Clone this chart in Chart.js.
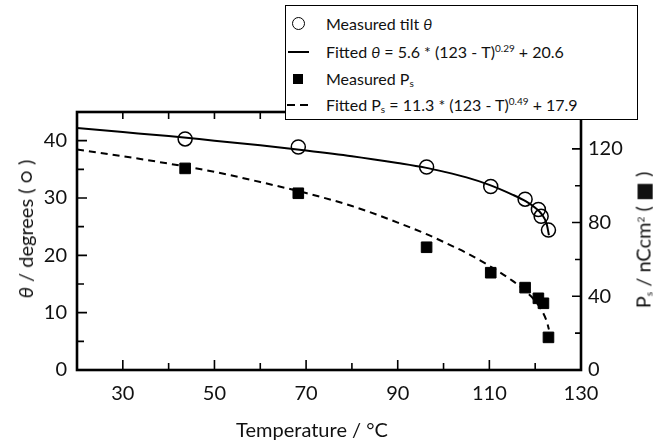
<!DOCTYPE html>
<html lang="en">
<head>
    <meta charset="UTF-8">
    <title>Tilt angle and spontaneous polarisation vs temperature</title>
    <script src="https://cdn.jsdelivr.net/npm/chart.js"></script>
    <style>
        html, body {
            margin: 0;
            padding: 0;
            background: #fff;
        }

        #wrap {
            position: relative;
            width: 653px;
            height: 443px;
            overflow: hidden;
            font-family: Lato, "DejaVu Sans", sans-serif;
            color: #111;
        }

        .axis-title {
            position: absolute;
            font-size: 20px;
            white-space: nowrap;
            transform: translate(-50%, -50%) rotate(-90deg);
        }

        .legend {
            position: absolute;
            left: 285px;
            top: 5px;
            width: 351px;
            height: 113px;
            border: 1.5px solid #000;
            background: #fff;
            font-size: 16px;
        }

        .legend .row {
            position: absolute;
            left: 0;
            height: 20px;
            line-height: 20px;
            white-space: nowrap;
        }

        .legend .sym {
            position: absolute;
            left: 0;
            top: 0;
            width: 26px;
            height: 20px;
        }

        .legend .txt {
            position: absolute;
            left: 40px;
            top: 0;
        }

        sup { font-size: 10px; vertical-align: 6px; line-height: 0; }
        sub { font-size: 10px; vertical-align: -2px; line-height: 0; }
    </style>
</head>
<body>
<div id="wrap">
    <canvas id="tiltChart" width="653" height="443"></canvas>

    <div class="axis-title" style="left:25px; top:229px;"><i>θ</i> / degrees ( ○ )</div>
    <div class="axis-title" style="left:643px; top:240px;">P<sub>s</sub> / nCcm<sup>2</sup> ( ■ )</div>
    <div class="axis-title" style="left:312px; top:429px; transform:translate(-50%, -50%);">Temperature / °C</div>

    <div class="legend">
        <div class="row" style="top:8px;">
            <div class="sym"><div style="position:absolute; left:6px; top:3px; width:11px; height:11px; border:1.5px solid #000; border-radius:50%;"></div></div>
            <div class="txt">Measured tilt <i>θ</i></div>
        </div>
        <div class="row" style="top:36px;">
            <div class="sym"><div style="position:absolute; left:2px; top:9px; width:21px; height:2px; background:#000;"></div></div>
            <div class="txt">Fitted <i>θ</i> = 5.6 * (123 - T)<sup>0.29</sup> + 20.6</div>
        </div>
        <div class="row" style="top:63px;">
            <div class="sym"><div style="position:absolute; left:7px; top:5px; width:10px; height:10px; background:#000;"></div></div>
            <div class="txt">Measured P<sub>s</sub></div>
        </div>
        <div class="row" style="top:89px;">
            <div class="sym">
                <div style="position:absolute; left:1px; top:9px; width:8px; height:2px; background:#000;"></div>
                <div style="position:absolute; left:14px; top:9px; width:8px; height:2px; background:#000;"></div>
            </div>
            <div class="txt">Fitted P<sub>s</sub> = 11.3 * (123 - T)<sup>0.49</sup> + 17.9</div>
        </div>
    </div>
</div>

<script>
    // measured points
    const tempTheta = [43.6, 68.3, 96.3, 110.3, 117.8, 120.7, 121.3, 122.9];
    const tiltTheta = [40.3, 38.9, 35.4, 32.0, 29.8, 28.0, 26.8, 24.4];
    const tempPs = [43.6, 68.3, 96.3, 110.3, 117.8, 120.7, 121.8, 122.9];
    const polPs = [109.4, 95.9, 66.6, 52.8, 44.7, 38.9, 36.2, 17.7];

    // fitted curves, sampled from the drawn lines
    const fitTemp = [20, 30, 40, 50, 60, 70, 80, 90, 96, 100, 105, 110, 115, 118, 120, 121.5, 122.5, 123];
    const fitTheta = [42.2, 41.5, 40.8, 40.0, 39.2, 38.3, 37.3, 36.1, 35.3, 34.6, 33.6, 32.3, 30.6, 29.4, 28.3, 27.1, 25.5, 23.5];
    const fitPs = [119.7, 116, 112, 107.5, 102, 96, 89, 80, 74, 69.5, 63.5, 56.5, 48.5, 42.5, 37.5, 32, 26.5, 22];

    // tick labels
    const xTicks = [30, 50, 70, 90, 110, 130];
    const yLeftTicks = [0, 10, 20, 30, 40];
    const yRightTicks = [0, 40, 80, 120];

    const toXY = (xs, ys) => xs.map((x, i) => ({ x: x, y: ys[i] }));
    const tickFont = { family: 'Lato', size: 20 };

    // frame and inward tick marks
    const frameTicks = {
        id: 'frameTicks',
        afterDraw(chart) {
            const ctx = chart.ctx;
            const a = chart.chartArea;
            const sx = chart.scales.x, sy = chart.scales.y, sy2 = chart.scales.y2;
            ctx.save();
            ctx.strokeStyle = '#000';
            ctx.lineWidth = 1.6;
            ctx.beginPath();
            for (let t = 30; t <= 130; t += 10) {
                const px = sx.getPixelForValue(t);
                const len = xTicks.includes(t) ? 10 : 7;
                ctx.moveTo(px, a.bottom);
                ctx.lineTo(px, a.bottom - len);
                if (t < 130) {
                    ctx.moveTo(px, a.top);
                    ctx.lineTo(px, a.top + 7);
                }
            }
            for (let v = 5; v < 45; v += 5) {
                const py = sy.getPixelForValue(v);
                const len = yLeftTicks.includes(v) ? 10 : 7;
                ctx.moveTo(a.left, py);
                ctx.lineTo(a.left + len, py);
            }
            for (let v = 20; v < 140; v += 20) {
                const py = sy2.getPixelForValue(v);
                const len = yRightTicks.includes(v) ? 9 : 6;
                ctx.moveTo(a.right, py);
                ctx.lineTo(a.right - len, py);
            }
            ctx.stroke();
            ctx.lineWidth = 2.6;
            ctx.strokeRect(a.left, a.top, a.right - a.left, a.bottom - a.top);
            ctx.restore();
        }
    };

    new Chart(document.getElementById('tiltChart'), {
        type: 'scatter',
        data: {
            datasets: [
                {
                    label: 'Measured tilt θ',
                    data: toXY(tempTheta, tiltTheta),
                    yAxisID: 'y',
                    pointStyle: 'circle',
                    pointRadius: 7,
                    pointBorderWidth: 1.5,
                    borderColor: '#000',
                    backgroundColor: 'rgba(0,0,0,0)'
                },
                {
                    label: 'Fitted θ',
                    type: 'line',
                    data: toXY(fitTemp, fitTheta),
                    yAxisID: 'y',
                    borderColor: '#000',
                    borderWidth: 2,
                    pointRadius: 0,
                    cubicInterpolationMode: 'monotone'
                },
                {
                    label: 'Measured Ps',
                    data: toXY(tempPs, polPs),
                    yAxisID: 'y2',
                    pointStyle: 'rect',
                    pointRadius: 7.5,
                    borderColor: '#000',
                    backgroundColor: '#000'
                },
                {
                    label: 'Fitted Ps',
                    type: 'line',
                    data: toXY(fitTemp, fitPs),
                    yAxisID: 'y2',
                    borderColor: '#000',
                    borderWidth: 2,
                    borderDash: [7, 5],
                    pointRadius: 0,
                    cubicInterpolationMode: 'monotone'
                }
            ]
        },
        options: {
            responsive: false,
            animation: false,
            layout: { padding: { top: 112, left: 0, right: 0, bottom: 0 } },
            plugins: {
                legend: { display: false },
                tooltip: { enabled: false }
            },
            scales: {
                x: {
                    type: 'linear',
                    min: 20,
                    max: 130,
                    afterBuildTicks: s => { s.ticks = xTicks.map(v => ({ value: v })); },
                    afterFit: s => { s.height = 73; },
                    grid: { display: false, drawTicks: false },
                    border: { display: false },
                    ticks: { font: tickFont, color: '#111', padding: 12, maxRotation: 0, autoSkip: false }
                },
                y: {
                    position: 'left',
                    min: 0,
                    max: 45,
                    afterBuildTicks: s => { s.ticks = yLeftTicks.map(v => ({ value: v })); },
                    afterFit: s => { s.width = 77; },
                    grid: { display: false, drawTicks: false },
                    border: { display: false },
                    ticks: { font: tickFont, color: '#111', padding: 10 }
                },
                y2: {
                    position: 'right',
                    min: 0,
                    max: 140,
                    afterBuildTicks: s => { s.ticks = yRightTicks.map(v => ({ value: v })); },
                    afterFit: s => { s.width = 72; },
                    grid: { display: false, drawTicks: false },
                    border: { display: false },
                    ticks: { font: tickFont, color: '#111', padding: 7 }
                }
            }
        },
        plugins: [frameTicks]
    });
</script>
</body>
</html>
